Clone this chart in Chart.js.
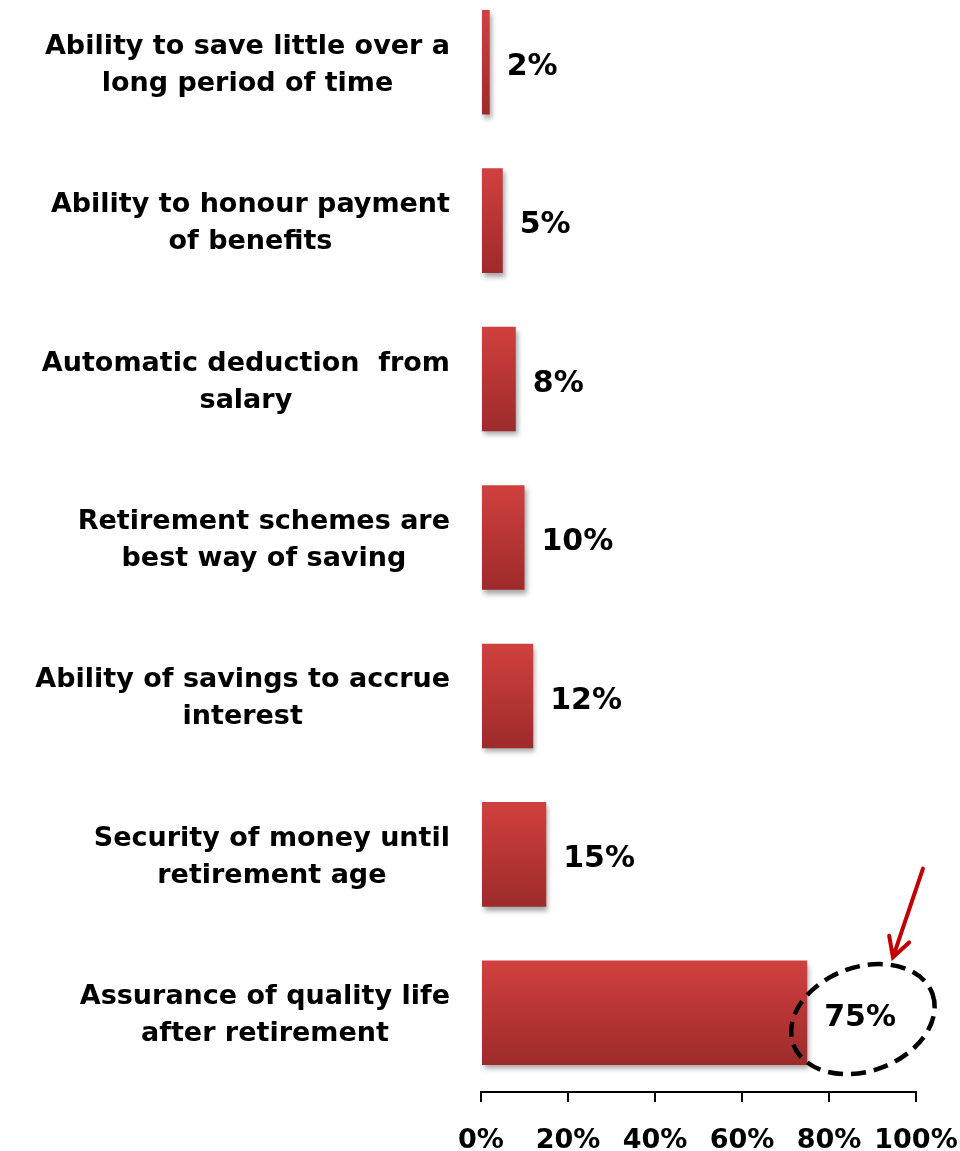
<!DOCTYPE html>
<html>
<head>
<meta charset="utf-8">
<script src="https://cdn.jsdelivr.net/npm/chart.js@4.4.1/dist/chart.umd.min.js"></script>
<style>
  html, body { margin: 0; padding: 0; background: #fff; overflow: hidden; }
  #wrap { position: absolute; left: 0; top: -17px; width: 960px; height: 1168px; }
</style>
</head>
<body>
<div id="wrap"><canvas id="chart"></canvas></div>
<script>
// categories, top to bottom
const categories = [
  ['Ability to save little over a', 'long period of time'],
  ['Ability to honour payment', 'of benefits'],
  ['Automatic deduction  from', 'salary'],
  ['Retirement schemes are', 'best way of saving'],
  ['Ability of savings to accrue', 'interest'],
  ['Security of money until', 'retirement age'],
  ['Assurance of quality life', 'after retirement']
];
const values = [2, 5, 8, 10, 12, 15, 75];
const xTicks = [0, 20, 40, 60, 80, 100];

const FONT = '"DejaVu Sans", sans-serif';

// vertical red gradient for each bar
function barGradient(ctx) {
  const chart = ctx.chart;
  const y = chart.scales.y;
  if (!y || ctx.dataIndex === undefined) return '#b83735';
  const center = y.getPixelForValue(ctx.dataIndex);
  const step = Math.abs(y.getPixelForValue(1) - y.getPixelForValue(0));
  const half = step * 0.66 / 2;
  if (!isFinite(center) || !isFinite(half) || half <= 0) return '#b83735';
  const g = chart.ctx.createLinearGradient(0, center - half, 0, center + half);
  g.addColorStop(0, '#d1403e');
  g.addColorStop(1, '#9d2b2b');
  return g;
}

const shadowPlugin = {
  id: 'barShadow',
  beforeDatasetDraw(chart) {
    const c = chart.ctx;
    c.save();
    c.shadowColor = 'rgba(0,0,0,0.35)';
    c.shadowBlur = 5;
    c.shadowOffsetX = 2;
    c.shadowOffsetY = 4;
  },
  afterDatasetDraw(chart) {
    chart.ctx.restore();
  }
};

const labelsPlugin = {
  id: 'labels',
  afterDraw(chart) {
    const c = chart.ctx;
    const x = chart.scales.x, y = chart.scales.y;
    const meta = chart.getDatasetMeta(0);

    // value labels
    c.save();
    c.fillStyle = '#000';
    c.font = 'bold 30px ' + FONT;
    c.textAlign = 'left';
    c.textBaseline = 'middle';
    meta.data.forEach((bar, i) => {
      c.fillText(values[i] + '%', bar.x + 17, bar.y + 5);
    });

    // category labels, centred lines in a block right-aligned to the axis
    c.font = 'bold 27px ' + FONT;
    c.textAlign = 'center';
    const right = x.left - 31;
    const lh = 37;
    categories.forEach((lines, i) => {
      const w = Math.max(...lines.map(l => c.measureText(l).width));
      const cx = right - w / 2;
      const cy = y.getPixelForValue(i) + 3;
      lines.forEach((l, j) => {
        c.fillText(l, cx, cy + (j - (lines.length - 1) / 2) * lh);
      });
    });

    // dashed ellipse round the 75% label
    const ex = x.getPixelForValue(87.8), ey = y.getPixelForValue(6.04);
    c.strokeStyle = '#000';
    c.lineWidth = 4.5;
    c.setLineDash([15, 8]);
    c.beginPath();
    c.ellipse(ex, ey, 74, 52, -0.35, 0, Math.PI * 2);
    c.stroke();
    c.setLineDash([]);

    // red arrow
    const ax1 = x.getPixelForValue(101.6), ay1 = y.getPixelForValue(5.09);
    const ax2 = x.getPixelForValue(94.7), ay2 = y.getPixelForValue(5.65);
    c.strokeStyle = '#c00000';
    c.lineWidth = 4;
    c.lineCap = 'round';
    c.beginPath();
    c.moveTo(ax1, ay1);
    c.lineTo(ax2, ay2);
    const ang = Math.atan2(ay2 - ay1, ax2 - ax1);
    const hl = 22;
    c.moveTo(ax2 - hl * Math.cos(ang - 0.5), ay2 - hl * Math.sin(ang - 0.5));
    c.lineTo(ax2, ay2);
    c.lineTo(ax2 - hl * Math.cos(ang + 0.5), ay2 - hl * Math.sin(ang + 0.5));
    c.stroke();
    c.restore();
  }
};

new Chart(document.getElementById('chart'), {
  type: 'bar',
  data: {
    labels: categories,
    datasets: [{
      data: values,
      backgroundColor: barGradient,
      borderWidth: 0,
      barPercentage: 1,
      categoryPercentage: 0.66
    }]
  },
  options: {
    indexAxis: 'y',
    responsive: true,
    maintainAspectRatio: false,
    animation: false,
    layout: { padding: { left: 0, right: 44, top: 0, bottom: 0 } },
    plugins: {
      legend: { display: false },
      tooltip: { enabled: false }
    },
    scales: {
      x: {
        min: 0,
        max: 100,
        afterBuildTicks(scale) {
          scale.ticks = xTicks.map(v => ({ value: v }));
        },
        afterFit(scale) {
          scale.height = 59;
          scale.paddingLeft = 0;
          scale.paddingRight = 0;
        },
        border: { display: true, color: '#000', width: 2 },
        grid: { drawOnChartArea: false, drawTicks: true, tickLength: 10, color: '#000', lineWidth: 2 },
        ticks: {
          padding: 23,
          color: '#000',
          font: { family: FONT, size: 27, weight: 'bold' },
          callback: v => v + '%',
          maxRotation: 0
        }
      },
      y: {
        afterFit(scale) { scale.width = 481; },
        border: { display: false },
        grid: { display: false },
        ticks: { display: false }
      }
    }
  },
  plugins: [shadowPlugin, labelsPlugin]
});
</script>
</body>
</html>
